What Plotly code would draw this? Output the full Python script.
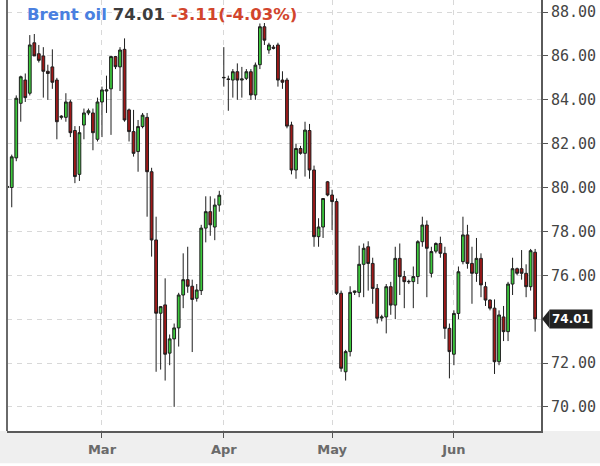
import pandas as pd
import plotly.graph_objects as go

# Session days shown on the chart: Sunday evening to Friday, Good Friday closed
days = pd.date_range("2023-02-05", "2023-06-22")
days = days[(days.dayofweek != 5) & (days != pd.Timestamp("2023-04-07"))]
dates = days.strftime("%Y-%m-%d").tolist()

open_ = [
    80.0, 80.0, 81.35, 83.84, 84.9, 84.3, 86.6, 86.1, 86.0, 85.3, 85.5, 84.9, 83.2, 83.2, 83.9, 82.6, 80.6, 82.85, 83.4, 83.4, 82.2,
    83.9, 84.4, 84.5, 85.97, 85.5, 86.3, 83.54, 82.55, 81.64, 82.78, 83.2, 80.72, 77.61, 74.27, 74.65, 72.45, 73.1, 73.6, 75.1, 75.8, 75.5, 74.95, 75.3, 78.15, 78.9, 78.2, 79.2,
    85.0, 84.95, 84.9, 85.28, 84.9, 84.98, 85.28, 84.22, 85.6, 87.33, 86.27, 86.4, 86.5, 84.9, 84.9, 82.85, 80.8, 81.78, 81.56, 82.6, 80.8, 77.76, 78.2, 80.26,
    79.66, 79.36, 75.18, 71.6, 72.52, 75.22, 75.22, 76.5, 77.3, 76.54, 75.4, 74.05, 74.1, 75.48, 74.64, 76.77, 75.94, 75.7, 75.71, 75.94, 77.53, 78.29, 76.09, 77.1, 77.45, 77.0, 73.58,
    72.4, 74.26, 76.62, 77.84, 76.54, 76.09, 76.77, 75.48, 74.87, 74.5, 72.06, 74.1, 73.43, 75.6, 76.3, 76.3, 76.09, 75.48, 77.05,
]
high = [
    80.1, 81.5, 84.2, 85.1, 85.2, 86.95, 87.0, 86.5, 86.4, 85.6, 86.3, 85.0, 83.3, 84.3, 84.0, 82.8, 82.8, 83.6, 83.6, 83.6, 84.1,
    84.6, 85.1, 86.0, 86.0, 86.4, 86.8, 83.6, 83.54, 83.08, 83.4, 83.4, 80.9, 78.67, 74.6, 75.86, 73.3, 73.8, 75.2, 77.0, 77.3, 75.8, 75.6, 78.3, 79.6, 79.6, 79.5, 79.85,
    86.4, 85.1, 85.4, 85.66, 85.5, 85.4, 85.4, 85.7, 87.48, 87.5, 86.6, 86.5, 86.6, 85.3, 85.0, 83.0, 82.0, 81.9, 83.0, 82.9, 81.0, 78.6, 79.5, 80.3,
    79.9, 79.5, 75.3, 72.6, 75.5, 75.3, 77.35, 77.45, 77.55, 76.8, 75.6, 74.2, 75.6, 75.7, 77.3, 77.45, 76.2, 75.8, 76.4, 77.6, 78.67, 78.5, 77.3, 77.5, 77.76, 77.3, 73.8,
    74.4, 76.4, 78.67, 78.3, 77.3, 77.7, 77.0, 75.7, 74.9, 74.9, 74.4, 74.6, 75.7, 76.8, 76.35, 77.15, 76.5, 77.2, 77.2,
]
low = [
    79.8, 79.1, 81.2, 83.0, 83.9, 84.2, 86.0, 85.7, 84.1, 84.0, 84.5, 82.2, 83.1, 83.0, 82.3, 80.2, 80.3, 82.2, 83.3, 81.7, 82.1,
    82.3, 83.4, 82.4, 85.4, 84.4, 83.0, 82.1, 81.41, 80.72, 82.7, 78.67, 76.85, 71.6, 71.7, 71.2, 71.9, 70.0, 72.75, 74.5, 75.2, 72.5, 74.8, 75.1, 77.5, 77.8, 77.6, 78.9,
    84.6, 83.5, 84.1, 84.0, 84.1, 84.9, 84.0, 84.0, 85.4, 86.5, 86.1, 86.3, 84.6, 84.5, 82.7, 80.6, 80.4, 81.5, 80.5, 80.4, 77.3, 77.3, 77.7, 79.6,
    78.06, 75.1, 71.6, 71.2, 72.3, 75.1, 75.0, 75.0, 75.3, 74.7, 73.8, 73.9, 73.35, 74.2, 74.0, 75.1, 74.5, 75.6, 74.5, 75.6, 77.3, 75.0, 75.9, 77.0, 76.8, 73.1, 71.3,
    71.9, 74.0, 76.5, 76.3, 74.7, 75.7, 75.0, 74.6, 74.4, 71.5, 71.9, 73.0, 73.0, 75.1, 76.0, 75.8, 75.0, 75.3, 73.43,
]
close = [
    80.05, 81.4, 84.07, 85.05, 84.1, 86.5, 86.0, 85.8, 85.3, 85.2, 84.8, 83.0, 83.25, 83.9, 82.5, 80.5, 82.5, 83.4, 83.5, 82.5, 83.9,
    84.45, 84.45, 85.97, 85.51, 86.27, 83.08, 82.55, 81.56, 82.78, 83.3, 80.72, 77.61, 74.27, 74.57, 72.4, 73.1, 73.6, 75.1, 75.8, 75.5, 74.9, 75.33, 78.15, 78.9, 78.3, 79.2, 79.65,
    85.02, 84.93, 85.28, 84.9, 84.95, 85.28, 84.22, 85.58, 87.33, 86.72, 86.5, 86.35, 84.9, 84.8, 82.8, 80.8, 81.78, 81.56, 82.62, 80.8, 77.76, 78.2, 79.5, 79.66,
    79.36, 75.18, 71.76, 72.52, 75.22, 75.28, 76.5, 77.23, 76.54, 75.4, 74.04, 74.1, 75.48, 74.64, 76.77, 75.94, 75.71, 75.72, 75.94, 77.53, 78.29, 77.23, 77.08, 77.45, 77.0, 73.58, 72.52,
    74.26, 76.16, 77.84, 76.54, 76.09, 76.77, 75.56, 74.87, 74.5, 72.06, 74.19, 73.43, 75.6, 76.3, 76.09, 76.09, 75.48, 77.12, 74.01,
]

month_ticks = ["2023-03-01", "2023-04-02", "2023-05-01", "2023-06-01"]
month_labels = ["Mar", "Apr", "May", "Jun"]
price_ticks = [70, 72, 74, 76, 78, 80, 82, 84, 86, 88]

last = close[-1]
change = last - close[-2]
pct = change / close[-2] * 100

# the price tag hides the axis label it sits on
price_labels = ["" if abs(p - last) < 1 else f"{p:.2f}" for p in price_ticks]

fig = go.Figure()
fig.add_trace(go.Candlestick(
    x=dates, open=open_, high=high, low=low, close=close,
    increasing=dict(line=dict(color="#1e1e1e", width=1), fillcolor="#3cc83c"),
    decreasing=dict(line=dict(color="#1e1e1e", width=1), fillcolor="#a01818"),
    whiskerwidth=0,
    showlegend=False,
    hoverinfo="x+y",
))

grid = dict(showgrid=True, gridcolor="#d8d8d8", gridwidth=1, griddash="5px,5px")

fig.update_layout(
    width=600, height=466,
    margin=dict(l=7, r=59, t=0, b=35),
    paper_bgcolor="white",
    plot_bgcolor="white",
    boxgap=0.12,
    xaxis=dict(
        type="category",
        range=[-0.05, 118.3],
        tickvals=month_ticks,
        ticktext=month_labels,
        tickfont=dict(family="DejaVu Sans", size=13, color="#6a6a6a", weight="bold"),
        ticks="outside", ticklen=5, tickcolor="#555", tickwidth=1,
        showline=True, linecolor="#5a5a5a", linewidth=2,
        rangeslider=dict(visible=False),
        zeroline=False,
        **grid,
    ),
    yaxis=dict(
        side="right",
        range=[68.9, 88.55],
        tickvals=price_ticks,
        ticktext=price_labels,
        tickfont=dict(family="DejaVu Sans Mono", size=15, color="#444"),
        ticks="outside", ticklen=5, tickcolor="#555", tickwidth=1,
        showline=True, linecolor="#5a5a5a", linewidth=2,
        zeroline=False,
        **grid,
    ),
    font=dict(family="DejaVu Sans"),
)

# light strip under the time axis
fig.add_shape(type="rect", xref="paper", yref="paper", x0=-0.02, x1=1.12, y0=-0.075, y1=0,
              fillcolor="#efefef", line=dict(width=0), layer="below")
# left border of the plot
fig.add_shape(type="line", xref="paper", yref="paper", x0=0, x1=0, y0=0, y1=1,
              line=dict(color="#6a6a6a", width=2))

# header text
fig.add_annotation(
    xref="paper", yref="paper", x=0.033, y=0.9675, xanchor="left", yanchor="middle",
    showarrow=False,
    text=(f"<b><span style='color:#4a80e0'>Brent oil</span> "
          f"<span style='color:#3c3c3c'>{last:.2f}</span> "
          f"<span style='color:#d2452c'>{change:.2f}({pct:.2f}%)</span></b>"),
    font=dict(family="DejaVu Sans", size=16.5),
)

# last price tag
fig.add_shape(type="path", xref="paper", yref="y",
              path=f"M 1.002,{last} L 1.016,{last + 0.42} L 1.016,{last - 0.42} Z",
              fillcolor="#222", line=dict(width=0))
fig.add_annotation(
    xref="paper", yref="y", x=1.015, y=last, xanchor="left", yanchor="middle",
    showarrow=False, text=f"<b>{last:.2f}</b>",
    font=dict(family="DejaVu Sans", size=12, color="white"),
    bgcolor="#222", borderpad=2,
)

# page body has a default margin; drop it so the figure sits at the window corner
fig.write_html("out.html", config={"displayModeBar": False},
               post_script="document.body.style.margin='0px';")
